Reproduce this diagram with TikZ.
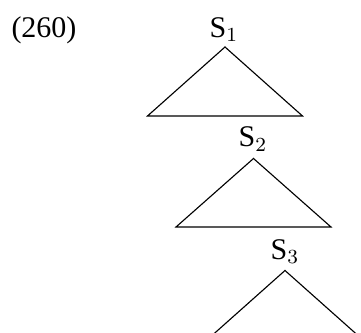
\documentclass[tikz,border=0pt]{standalone}
\usepackage{fontspec}
\setmainfont{Liberation Serif}
\begin{document}
\begin{tikzpicture}[x=0.4pt,y=-0.4pt,
  lbl/.style={inner sep=0pt,anchor=base,font=\fontsize{12}{14}\selectfont},
  tri/.style={line width=0.45pt,line join=miter}]
\useasboundingbox (0,0) rectangle (361,333);
\clip (0,0) rectangle (361,333);
\node[lbl,anchor=base west] (num) at (11,37) {(260)};
% triangle 1
\coordinate (a1) at (225,47);
\coordinate (l1) at (147.5,116);
\coordinate (r1) at (302.5,116);
\node[lbl] (s1) at (224,37) {S$_1$};
\draw[tri] (l1) -- (a1) -- (r1) -- cycle;
% triangle 2
\coordinate (a2) at (253.5,158.5);
\coordinate (l2) at (176,227);
\coordinate (r2) at (331,227);
\node[lbl] (s2) at (253,147) {S$_2$};
\draw[tri] (l2) -- (a2) -- (r2) -- cycle;
% triangle 3
\coordinate (a3) at (285,270.5);
\coordinate (l3) at (207.5,339.5);
\coordinate (r3) at (362.5,339.5);
\node[lbl] (s3) at (285,259) {S$_3$};
\draw[tri] (l3) -- (a3) -- (r3) -- cycle;
\end{tikzpicture}
\end{document}
